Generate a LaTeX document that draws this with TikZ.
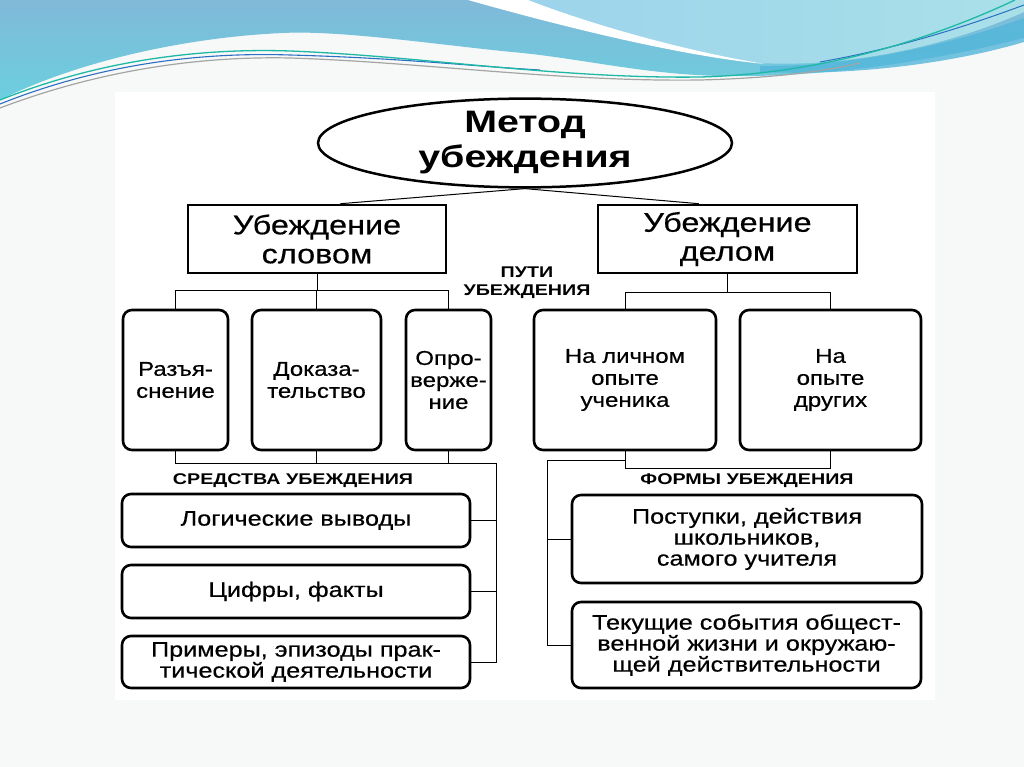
\documentclass[tikz,border=0pt]{standalone}
\usepackage{fontspec}
\setmainfont{Liberation Sans}
\newfontfamily\bodyf{Liberation Sans}[FakeStretch=1.2, FakeBold=0.5]
\newfontfamily\titlef{Liberation Sans}[FakeStretch=1.27]
\usetikzlibrary{shapes.geometric,calc}
\definecolor{pagebg}{HTML}{F7F8F8}
\definecolor{wvA}{HTML}{80B9D9}
\definecolor{wvB}{HTML}{6BCFDF}
\definecolor{wvC}{HTML}{9CD3EC}
\definecolor{wvD}{HTML}{A9E0E8}
\definecolor{wvE}{HTML}{52B6DA}
\definecolor{lnTeal}{HTML}{1DB9A6}
\definecolor{lnBlue}{HTML}{2B6FC2}
\definecolor{lnGray}{HTML}{A4A4A4}
\begin{document}
\begin{tikzpicture}[x=1pt,y=-1pt,
  thickbox/.style={draw, line width=2.6pt, align=center, inner sep=0pt},
  sqbox/.style={thickbox, font=\bodyf\fontsize{27}{29}\selectfont},
  rbox/.style={thickbox, rounded corners=9pt, font=\bodyf\fontsize{20}{22}\selectfont},
  lbox/.style={thickbox, rounded corners=9pt, minimum width=348, font=\bodyf\fontsize{21}{21}\selectfont},
  lab/.style={align=center, inner sep=0pt, font=\titlef\bfseries\fontsize{15.5}{18}\selectfont},
  conn/.style={line width=1pt}]
\useasboundingbox (0,0) rectangle (1024,767);
\fill[pagebg] (0,0) rectangle (1024,767);
\fill[white] (115,92) rectangle (935,700);
% ---- top decoration
\shade[top color=wvA, bottom color=wvB] (0,0) -- (1024,0) -- (1024,38)
  .. controls (930,62) and (820,78) .. (720,76)
  .. controls (640,74) and (580,58) .. (512,52)
  .. controls (440,45) and (340,30) .. (283,33)
  .. controls (190,37) and (80,60) .. (0,100) -- cycle;
\shade[left color=wvC, right color=wvD] (500,0)
  .. controls (590,28) and (690,58) .. (760,63)
  .. controls (850,68) and (950,45) .. (1024,12) -- (1024,0) -- cycle;
\fill[white] (468,0) .. controls (560,26) and (680,56) .. (765,64)
  .. controls (690,52) and (595,26) .. (528,0) -- cycle;
\fill[wvE, opacity=0.8] (760,66) .. controls (850,67) and (950,45) .. (1024,18)
  -- (1024,42) .. controls (950,64) and (850,76) .. (760,72) -- cycle;
\draw[lnGray, line width=1.2pt] (0,108) .. controls (100,70) and (200,56) .. (290,58)
  .. controls (420,62) and (560,82) .. (700,80) .. controls (780,78) and (830,70) .. (860,63);
\draw[lnBlue, line width=1.1pt] (0,104) .. controls (100,64) and (200,52) .. (290,55)
  .. controls (400,58) and (470,66) .. (540,70);
\draw[lnBlue, line width=1pt] (820,62) .. controls (900,48) and (970,25) .. (1024,5);
\draw[lnTeal, line width=1.3pt] (0,100) .. controls (100,60) and (200,48) .. (290,51)
  .. controls (420,56) and (560,79) .. (700,77) .. controls (820,74) and (930,40) .. (1015,0);
% ---- nodes
\node[ellipse, draw, line width=2.5pt, minimum width=414, minimum height=86, inner sep=0pt,
  align=center, font=\titlef\bfseries\fontsize{31}{35}\selectfont] (m) at (525,143) {Метод\\убеждения};
\node[sqbox, minimum width=258, minimum height=68] (sl) at (317,239) {Убеждение\\словом};
\node[sqbox, minimum width=259, minimum height=68] (dl) at (727.5,239) {Убеждение\\делом};
\node[lab] (pu) at (527,283) {ПУТИ\\УБЕЖДЕНИЯ};
\node[rbox, minimum width=105, minimum height=140] (a) at (175.5,380) {Разъя-\\снение};
\node[rbox, minimum width=129, minimum height=140] (b) at (316.5,380) {Доказа-\\тельство};
\node[rbox, minimum width=85, minimum height=140] (c) at (448.5,380) {Опро-\\верже-\\ние};
\node[rbox, minimum width=182, minimum height=140] (d) at (625,380) {На личном\\опыте\\ученика};
\node[rbox, minimum width=181, minimum height=140] (e) at (830.5,380) {На\\опыте\\других};
\node[lab] (sr) at (293,481) {СРЕДСТВА УБЕЖДЕНИЯ};
\node[lab] (fo) at (747,481) {ФОРМЫ УБЕЖДЕНИЯ};
\node[lbox, minimum height=53] (f) at (296,520.5) {Логические выводы};
\node[lbox, minimum height=53] (g) at (296,591.5) {Цифры, факты};
\node[lbox, minimum height=52] (h) at (296,662) {Примеры, эпизоды прак-\\тической деятельности};
\node[lbox, minimum width=350, minimum height=88] (i) at (747,539) {Поступки, действия\\школьников,\\самого учителя};
\node[lbox, minimum width=349, minimum height=86] (j) at (746.5,645) {Текущие события общест-\\венной жизни и окружаю-\\щей действительности};
% ---- connectors
\coordinate (hl) at (0,290);
\coordinate (hr) at (0,292);
\coordinate (hb) at (0,463);
\coordinate (hd) at (0,468);
\coordinate (dj) at (0,460);
\coordinate (sx) at (496,0);
\coordinate (sy) at (547,0);
\draw[conn] (m.south) -- ($(sl.north west)!0.59!(sl.north east)$);
\draw[conn] (m.south) -- ($(dl.north west)!0.39!(dl.north east)$);
\draw[conn] (sl.south) -- (sl.south |- hl);
\draw[conn] (a.north) -- (a.north |- hl) -- (c.north |- hl) -- (c.north);
\draw[conn] (b.north) -- (b.north |- hl);
\draw[conn] (dl.south) -- (dl.south |- hr);
\draw[conn] (d.north) -- (d.north |- hr) -- (e.north |- hr) -- (e.north);
\draw[conn] (a.south) -- (a.south |- hb) -- (c.south |- hb) -- (c.south);
\draw[conn] (b.south) -- (b.south |- hb);
\draw[conn] (c.south |- hb) -- (sx |- hb) -- (sx |- h.east) -- (h.east);
\draw[conn] (f.east) -- (sx |- f.east);
\draw[conn] (g.east) -- (sx |- g.east);
\draw[conn] (d.south) -- (d.south |- hd) -- (e.south |- hd) -- (e.south);
\draw[conn] (d.south |- dj) -- (sy |- dj) -- (sy |- j.west) -- (j.west);
\draw[conn] (i.west) -- (sy |- i.west);
\end{tikzpicture}
\end{document}
